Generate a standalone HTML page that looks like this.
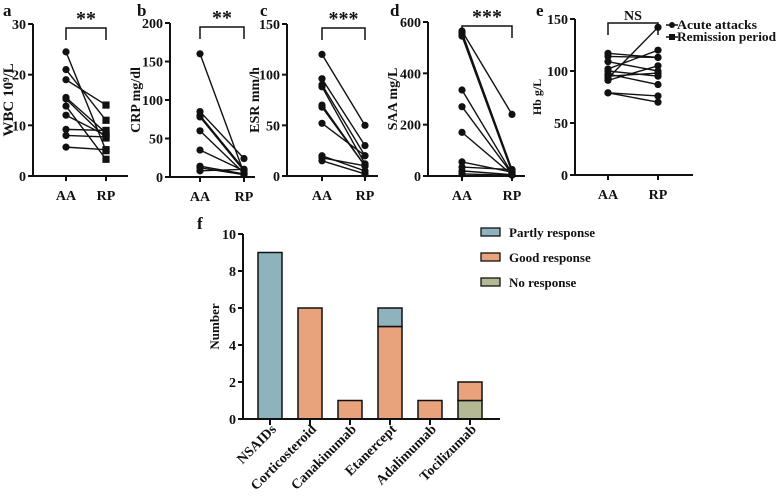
<!DOCTYPE html>
<html><head><meta charset="utf-8"><style>
html,body{margin:0;padding:0;background:#fff}
svg text{font-family:"Liberation Serif",serif;font-weight:bold;fill:#111}
</style></head><body>
<svg id="fig" width="778" height="493" viewBox="0 0 778 493" xmlns="http://www.w3.org/2000/svg"></svg>
<script>
const NS="http://www.w3.org/2000/svg";
const svg=document.getElementById('fig');
function mk(tag,attrs,parent,txt){const e=document.createElementNS(NS,tag);for(const k in attrs)e.setAttribute(k,attrs[k]);if(txt!==undefined)e.textContent=txt;(parent||svg).appendChild(e);return e;}

// ---- paired data ----
const groupLabels=["AA","RP"];
const wbcAA=[24.5,21,19,15.5,15.2,13.8,12,9.2,8,5.7];
const wbcRP=[5,11,14,8.5,7.5,3.3,8,9,7.7,5.2];
const crpAA=[160,85,80,78,60,35,14,12,8];
const crpRP=[5,24,10,8,5,8,4,3,10];
const esrAA=[120,96,90,88,70,68,52,20,18,15];
const esrRP=[50,30,20,12,10,10,20,5,10,2];
const saaAA=[565,560,550,545,335,270,170,55,35,20,8];
const saaRP=[240,25,20,15,10,8,5,15,25,5,3];
const hbAA=[117,114,109,102,100,97,93,91,79,79,95];
const hbRP=[113,113,100,120,95,87,142,105,76,70,98];
const wbcTicks=[0,10,20,30];
const crpTicks=[0,50,100,150,200];
const esrTicks=[0,50,100,150];
const saaTicks=[0,200,400,600];
const hbTicks=[0,50,100,150];

function paired(cfg){
  const g=mk('g',{},svg);
  
  
  const max=cfg.ticks[cfg.ticks.length-1];
  const y=v=>cfg.y0-(v/max)*(cfg.y0-cfg.yTop);
  const xs=[cfg.xAA,cfg.xRP];
  const ya=mk('line',{x1:cfg.ax,y1:cfg.yTop,x2:cfg.ax,y2:cfg.y0,stroke:'#111','stroke-width':2},g);
  
  const xa=mk('line',{x1:cfg.ax,y1:cfg.y0,x2:cfg.axEnd,y2:cfg.y0,stroke:'#111','stroke-width':2},g);
  
  cfg.ticks.forEach(t=>{
    mk('line',{x1:cfg.ax-5,y1:y(t),x2:cfg.ax,y2:y(t),stroke:'#111','stroke-width':2},g);
    const tl=mk('text',{x:cfg.ax-7,y:y(t)+5,'text-anchor':'end','font-size':14},g,t);
    
  });
  xs.forEach((x,i)=>{
    mk('line',{x1:x,y1:cfg.y0,x2:x,y2:cfg.y0+5,stroke:'#111','stroke-width':2},g);
    const xl=mk('text',{x:x,y:cfg.y0+24,'text-anchor':'middle','font-size':14},g,groupLabels[i]);
    
  });
  const tt=mk('text',{x:0,y:0,'text-anchor':'middle','font-size':cfg.tfs||14,transform:`translate(${cfg.ax-cfg.toff},${(cfg.yTop+cfg.y0)/2}) rotate(-90)`},g,cfg.title);
  
  const pl=mk('text',{x:cfg.ax-cfg.loff,y:16,'font-size':17},g,cfg.letter);
  
  const by=cfg.yTop+4;
  mk('path',{d:`M${xs[0]},${by+12}V${by}H${xs[1]}V${by+12}`,fill:'none',stroke:'#111','stroke-width':1.5},g);
  const st=mk('text',{x:(xs[0]+xs[1])/2,y:by-3,'text-anchor':'middle','font-size':cfg.sigfs||20},g,cfg.sig);
  
  cfg.aa.forEach((v,i)=>{
    const ln=mk('line',{x1:xs[0],y1:y(v),x2:xs[1],y2:y(cfg.rp[i]),stroke:'#111','stroke-width':1.4},g);
    
    const c=mk('circle',{cx:xs[0],cy:y(v),r:3.6,fill:'#111'},g);
    
    let m;
    if(cfg.sq) m=mk('rect',{x:xs[1]-3.6,y:y(cfg.rp[i])-3.6,width:7.2,height:7.2,fill:'#111'},g);
    else m=mk('circle',{cx:xs[1],cy:y(cfg.rp[i]),r:3.6,fill:'#111'},g);
    
  });
}
paired({name:'panel-a-wbc',letter:'a',title:'WBC 10⁹/L',ax:33,axEnd:128,yTop:24,y0:176,xAA:66,xRP:106,ticks:wbcTicks,aa:wbcAA,rp:wbcRP,sig:'**',toff:20,loff:30,sq:true,tfs:15});
paired({name:'panel-b-crp',letter:'b',title:'CRP mg/dl',ax:170,axEnd:255,yTop:23,y0:177,xAA:200,xRP:244,ticks:crpTicks,aa:crpAA,rp:crpRP,sig:'**',toff:30,loff:33});
paired({name:'panel-c-esr',letter:'c',title:'ESR mm/h',ax:287,axEnd:378,yTop:24,y0:176,xAA:322,xRP:365,ticks:esrTicks,aa:esrAA,rp:esrRP,sig:'***',toff:28,loff:27});
paired({name:'panel-d-saa',letter:'d',title:'SAA mg/L',ax:428,axEnd:525,yTop:22,y0:176,xAA:462,xRP:512,ticks:saaTicks,aa:saaAA,rp:saaRP,sig:'***',toff:31,loff:38});
paired({name:'panel-e-hb',letter:'e',title:'Hb g/L',ax:575,axEnd:693,yTop:19,y0:175,xAA:608,xRP:658,ticks:hbTicks,aa:hbAA,rp:hbRP,sig:'NS',sigfs:14,toff:34,loff:39,tfs:12});
[['Acute attacks',25,'c',80],['Remission period',37,'s',99]].forEach(([t,yy,s,w])=>{
  const g=mk('g',{},svg);
  
  mk('line',{x1:666,y1:yy,x2:678,y2:yy,stroke:'#111','stroke-width':1.5},g);
  if(s==='c')mk('circle',{cx:672,cy:yy,r:3,fill:'#111'},g);else mk('rect',{x:669,y:yy-3,width:6,height:6,fill:'#111'},g);
  mk('text',{x:677,y:yy+4,'font-size':13,textLength:w,lengthAdjust:'spacingAndGlyphs'},g,t);
});

// ---- bar chart f ----
const drugs=["NSAIDs","Corticosteroid","Canakinumab","Etanercept","Adalimumab","Tocilizumab"];
const noResp=[0,0,0,0,0,1];
const goodResp=[0,6,1,5,1,1];
const partlyResp=[9,0,0,1,0,0];
const barTicks=[0,2,4,6,8,10];
const colors={partly:'#8fb3bd',good:'#e8a27c',no:'#b4b994'};
(function(){
  const g=mk('g',{},svg);
  
  const ax=243,y0=419,yTop=234,x0=250,step=40,bw=24;
  const y=v=>y0-v/10*(y0-yTop);
  const xc=i=>x0+20+i*step;
  const pl=mk('text',{x:197,y:229,'font-size':17},g,'f');
  
  const tt=mk('text',{x:0,y:0,'text-anchor':'middle','font-size':13,transform:`translate(219,${(y0+yTop)/2}) rotate(-90)`},g,'Number');
  
  barTicks.forEach(t=>{
    mk('line',{x1:ax-5,y1:y(t),x2:ax,y2:y(t),stroke:'#111','stroke-width':2},g);
    const tl=mk('text',{x:ax-7,y:y(t)+5,'text-anchor':'end','font-size':14},g,t);
    
  });
  drugs.forEach((d,i)=>{
    let base=0;
    [[noResp,colors.no,'no'],[goodResp,colors.good,'good'],[partlyResp,colors.partly,'partly']].forEach(([arr,col,nm])=>{
      const v=arr[i];if(!v)return;
      const r=mk('rect',{x:xc(i)-bw/2,y:y(base+v),width:bw,height:y(base)-y(base+v),fill:col,stroke:'#111','stroke-width':1.5},g);
      
      base+=v;
    });
    mk('line',{x1:xc(i),y1:y0,x2:xc(i),y2:y0+6,stroke:'#111','stroke-width':2},g);
    const xl=mk('text',{x:0,y:0,'text-anchor':'end','font-size':14,transform:`translate(${xc(i)+7},${y0+11}) rotate(-45)`},g,d);
    
  });
  const ya=mk('line',{x1:ax,y1:yTop,x2:ax,y2:y0,stroke:'#111','stroke-width':2},g);
  
  const xa=mk('line',{x1:ax,y1:y0,x2:500,y2:y0,stroke:'#111','stroke-width':2},g);
  
  [['Partly response',colors.partly,232],['Good response',colors.good,257],['No response',colors.no,282]].forEach(([t,c,yy])=>{
    const lg=mk('g',{},svg);
    
    mk('rect',{x:481,y:yy-4,width:19,height:8,fill:c,stroke:'#111','stroke-width':1.3},lg);
    mk('text',{x:509,y:yy+5,'font-size':13},lg,t);
  });
})();
</script>
</body></html>
